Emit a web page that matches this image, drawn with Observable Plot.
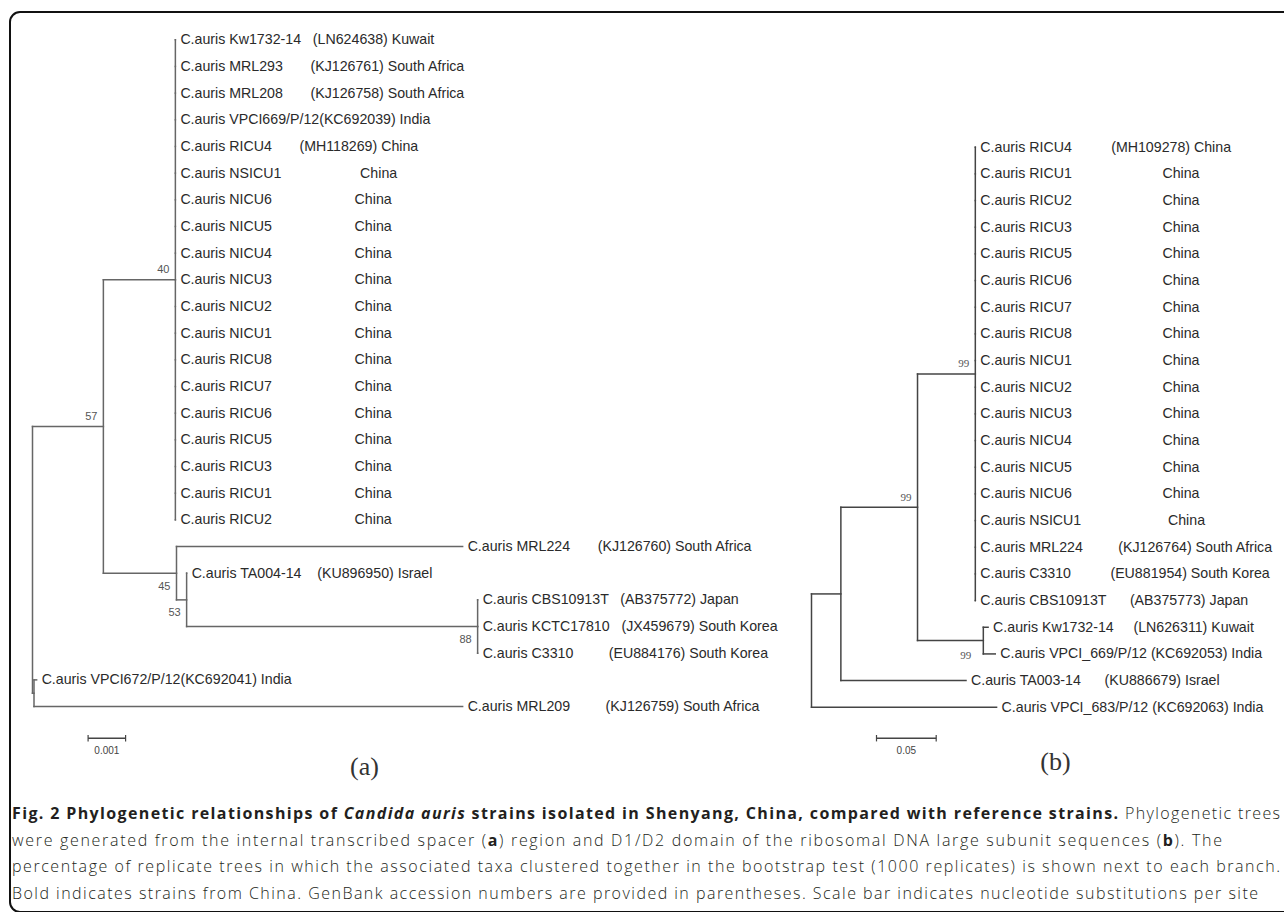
<!DOCTYPE html>
<html>
<head>
<meta charset="utf-8">
<script src="https://cdn.jsdelivr.net/npm/d3@7"></script>
<script src="https://cdn.jsdelivr.net/npm/@observablehq/plot@0.6"></script>
<style>
  body { margin: 0; background: #fff; overflow: hidden; }
  #wrap { position: relative; width: 1284px; height: 912px; overflow: hidden; background: #fff; }
  #frame { position: absolute; left: 9px; top: 11px; width: 1320px; height: 902px; border: 2.4px solid #111; border-radius: 11px; box-sizing: border-box; }
  .plot { position: absolute; left: 0; top: 0; }
  svg text { white-space: pre; }
  #caption { position: absolute; left: 12px; top: 800px; font-family: "Open Sans", sans-serif; font-size: 16px; line-height: 26.67px; color: #231f20; font-weight: 300; }
  #caption div { white-space: nowrap; width: max-content; }
  #caption b { font-weight: 700; }
</style>
</head>
<body>
<div id="wrap">
  <div id="frame"></div>
  <div id="caption"></div>
</div>
<script>
// ---------------- Tree (a): ITS region ----------------
const aLeafLabels = [
  "C.auris Kw1732-14   (LN624638) Kuwait",
  "C.auris MRL293       (KJ126761) South Africa",
  "C.auris MRL208       (KJ126758) South Africa",
  "C.auris VPCI669/P/12(KC692039) India",
  "C.auris RICU4       (MH118269) China",
  "C.auris NSICU1                    China",
  "C.auris NICU6                     China",
  "C.auris NICU5                     China",
  "C.auris NICU4                     China",
  "C.auris NICU3                     China",
  "C.auris NICU2                     China",
  "C.auris NICU1                     China",
  "C.auris RICU8                     China",
  "C.auris RICU7                     China",
  "C.auris RICU6                     China",
  "C.auris RICU5                     China",
  "C.auris RICU3                     China",
  "C.auris RICU1                     China",
  "C.auris RICU2                     China",
  "C.auris MRL224       (KJ126760) South Africa",
  "C.auris TA004-14    (KU896950) Israel",
  "C.auris CBS10913T   (AB375772) Japan",
  "C.auris KCTC17810   (JX459679) South Korea",
  "C.auris C3310         (EU884176) South Korea",
  "C.auris VPCI672/P/12(KC692041) India",
  "C.auris MRL209         (KJ126759) South Africa"
];
const aLeafParent = [
  "N40","N40","N40","N40","N40","N40","N40","N40","N40","N40",
  "N40","N40","N40","N40","N40","N40","N40","N40","N40",
  "N45","N53","N88","N88","N88","R2","R2"
];
const aLeafLength = [
  0,0,0,0,0,0,0,0,0,0, 0,0,0,0,0,0,0,0,0,
  0.00763, 0, 0, 0, 0, 0.00007, 0.01143
];
const aNodes      = ["root", "N57",   "N40",   "N45",   "N53",   "N88",   "R2"];
const aNodeParent = [null,   "root",  "N57",   "N57",   "N45",   "N53",   "root"];
const aNodeLength = [0,      0.00189, 0.00192, 0.00195, 0.00027, 0.00776, 0.00004];
const aBootNodes  = ["N40", "N57", "N45", "N53", "N88"];
const aBootValues = [40, 57, 45, 53, 88];
const aBootSide   = ["above", "above", "below", "below", "below"];
const aScaleBar = 0.001, aScaleLabel = "0.001", aPanel = "(a)";

// ---------------- Tree (b): D1/D2 domain ----------------
const bLeafLabels = [
  "C.auris RICU4          (MH109278) China",
  "C.auris RICU1                       China",
  "C.auris RICU2                       China",
  "C.auris RICU3                       China",
  "C.auris RICU5                       China",
  "C.auris RICU6                       China",
  "C.auris RICU7                       China",
  "C.auris RICU8                       China",
  "C.auris NICU1                       China",
  "C.auris NICU2                       China",
  "C.auris NICU3                       China",
  "C.auris NICU4                       China",
  "C.auris NICU5                       China",
  "C.auris NICU6                       China",
  "C.auris NSICU1                      China",
  "C.auris MRL224         (KJ126764) South Africa",
  "C.auris C3310          (EU881954) South Korea",
  "C.auris CBS10913T      (AB375773) Japan",
  "C.auris Kw1732-14     (LN626311) Kuwait",
  "C.auris VPCI_669/P/12 (KC692053) India",
  "C.auris TA003-14      (KU886679) Israel",
  "C.auris VPCI_683/P/12 (KC692063) India"
];
const bLeafParent = [
  "NC","NC","NC","NC","NC","NC","NC","NC","NC","NC",
  "NC","NC","NC","NC","NC","NC","NC","NC",
  "NK","NK","N3","root"
];
const bLeafLength = [
  0,0,0,0,0,0,0,0,0,0, 0,0,0,0,0,0,0,0,
  0.004, 0.010, 0.1048, 0.155
];
const bNodes      = ["root", "N3",   "N2",   "NC",   "NK"];
const bNodeParent = [null,   "root", "N3",   "N2",   "N2"];
const bNodeLength = [0,      0.0246, 0.0642, 0.0484, 0.0551];
const bBootNodes  = ["NC", "N2", "NK"];
const bBootValues = [99, 99, 99];
const bBootSide   = ["above", "above", "below"];
const bScaleBar = 0.05, bScaleLabel = "0.05", bPanel = "(b)";

// ---------------- Caption ----------------
const captionLines = [
  '<b>Fig. 2 Phylogenetic relationships of <i>Candida auris</i> strains isolated in Shenyang, China, compared with reference strains.</b> Phylogenetic trees',
  'were generated from the internal transcribed spacer (<b>a</b>) region and D1/D2 domain of the ribosomal DNA large subunit sequences (<b>b</b>). The',
  'percentage of replicate trees in which the associated taxa clustered together in the bootstrap test (1000 replicates) is shown next to each branch.',
  'Bold indicates strains from China. GenBank accession numbers are provided in parentheses. Scale bar indicates nucleotide substitutions per site'
];

// ---------------- Layout helper (rectangular cladogram) ----------------
function layoutTree(leafLabels, leafParent, leafLength, nodes, nodeParent, nodeLength) {
  const parent = new Map(nodes.map((n, i) => [n, nodeParent[i]]));
  const len = new Map(nodes.map((n, i) => [n, nodeLength[i]]));
  const X = new Map(), Y = new Map();
  function nx(n) {
    if (X.has(n)) return X.get(n);
    const p = parent.get(n);
    const v = p == null ? 0 : nx(p) + len.get(n);
    X.set(n, v); return v;
  }
  nodes.forEach(nx);
  const leaves = leafLabels.map((label, i) => ({
    label, parent: leafParent[i], x: X.get(leafParent[i]) + leafLength[i], y: i
  }));
  function childYs(n) {
    return [...leaves.filter(l => l.parent === n).map(l => l.y),
            ...nodes.filter(m => parent.get(m) === n).map(ny)];
  }
  function ny(n) {
    if (Y.has(n)) return Y.get(n);
    const cs = childYs(n);
    const v = (Math.min(...cs) + Math.max(...cs)) / 2;
    Y.set(n, v); return v;
  }
  nodes.forEach(ny);
  const segs = [];
  leaves.forEach(l => segs.push({x1: X.get(l.parent), x2: l.x, y1: l.y, y2: l.y}));
  nodes.forEach(n => {
    const p = parent.get(n);
    if (p != null) segs.push({x1: X.get(p), x2: X.get(n), y1: Y.get(n), y2: Y.get(n)});
    const cs = childYs(n);
    segs.push({x1: X.get(n), x2: X.get(n), y1: Math.min(...cs), y2: Math.max(...cs)});
  });
  return {X, Y, leaves, segs};
}

function drawTree(cfg) {
  const t = layoutTree(cfg.leafLabels, cfg.leafParent, cfg.leafLength, cfg.nodes, cfg.nodeParent, cfg.nodeLength);
  const boots = cfg.bootNodes.map((n, i) => ({x: t.X.get(n), y: t.Y.get(n), v: String(cfg.bootValues[i]), side: cfg.bootSide[i]}));
  const sx = Plot.scale({x: cfg.xScale});
  const sy = Plot.scale({y: cfg.yScale});
  const bx0 = sx.invert(cfg.barPx[0]), by = sy.invert(cfg.barPx[1]);
  const bar = [{x1: bx0, x2: bx0 + cfg.barLen, y1: by, y2: by}];
  const ticks = [
    {x1: bx0, x2: bx0, y1: by - 0.12, y2: by + 0.12},
    {x1: bx0 + cfg.barLen, x2: bx0 + cfg.barLen, y1: by - 0.12, y2: by + 0.12}
  ];
  const panel = [{x: sx.invert(cfg.panelPx[0]), y: sy.invert(cfg.panelPx[1]), t: cfg.panel}];
  return Plot.plot({
    width: 1284, height: 790, margin: 0,
    x: {...cfg.xScale, axis: null},
    y: {...cfg.yScale, axis: null},
    style: {background: "transparent", overflow: "visible"},
    marks: [
      Plot.link(t.segs, {x1: "x1", y1: "y1", x2: "x2", y2: "y2", stroke: cfg.lineColor, strokeWidth: 1.5, strokeLinecap: "square"}),
      Plot.text(t.leaves, {x: "x", y: "y", text: "label", textAnchor: "start", dx: 5, fontSize: 14.2, fontFamily: "Liberation Sans, Arial, sans-serif", fill: "#2a2a2a"}),
      Plot.text(boots.filter(d => d.side === "above"), {x: "x", y: "y", text: "v", textAnchor: "end", dx: -6, dy: -10, fontSize: 11, fontFamily: cfg.bootFont, fill: "#555"}),
      Plot.text(boots.filter(d => d.side === "below"), {x: "x", y: "y", text: "v", textAnchor: "end", dx: cfg.belowDx, dy: cfg.belowDy, fontSize: 11, fontFamily: cfg.bootFont, fill: "#555"}),
      Plot.link(bar, {x1: "x1", y1: "y1", x2: "x2", y2: "y2", stroke: "#444", strokeWidth: 1.5}),
      Plot.link(ticks, {x1: "x1", y1: "y1", x2: "x2", y2: "y2", stroke: "#444", strokeWidth: 1.2}),
      Plot.text([cfg.barLabel], {x: bx0 + cfg.barLen / 2, y: by, text: d => d, dy: 13, fontSize: 10, fontFamily: "Liberation Sans, Arial, sans-serif", fill: "#444"}),
      Plot.text(panel, {x: "x", y: "y", text: "t", fontSize: 26, fontFamily: "Liberation Serif, serif", fill: "#333"})
    ]
  });
}

const wrap = document.getElementById("wrap");
const plotA = drawTree({
  leafLabels: aLeafLabels, leafParent: aLeafParent, leafLength: aLeafLength,
  nodes: aNodes, nodeParent: aNodeParent, nodeLength: aNodeLength,
  bootNodes: aBootNodes, bootValues: aBootValues, bootSide: aBootSide,
  xScale: {type: "linear", domain: [0, 0.001], range: [32, 69.5]},
  yScale: {type: "linear", domain: [0, 1], range: [39.3, 65.97]},
  barLen: aScaleBar, barLabel: aScaleLabel, barPx: [87.6, 737.7],
  panel: aPanel, panelPx: [364, 766],
  lineColor: "#666", bootFont: "Liberation Sans, Arial, sans-serif", belowDx: -6, belowDy: 13
});
const plotB = drawTree({
  leafLabels: bLeafLabels, leafParent: bLeafParent, leafLength: bLeafLength,
  nodes: bNodes, nodeParent: bNodeParent, nodeLength: bNodeLength,
  bootNodes: bBootNodes, bootValues: bBootValues, bootSide: bBootSide,
  xScale: {type: "linear", domain: [0, 0.05], range: [811, 870.7]},
  yScale: {type: "linear", domain: [0, 1], range: [146.7, 173.37]},
  barLen: bScaleBar, barLabel: bScaleLabel, barPx: [876, 737.7],
  panel: bPanel, panelPx: [1055, 761],
  lineColor: "#444", bootFont: "Liberation Serif, serif", belowDx: -12, belowDy: 15
});
[plotA, plotB].forEach(p => { p.classList.add("plot"); wrap.appendChild(p); });

// caption with line widths matched to the reference
const cap = document.getElementById("caption");
const targets = [1268, 1210, 1268, 1246];
captionLines.forEach((html, i) => {
  const d = document.createElement("div");
  d.innerHTML = html;
  cap.appendChild(d);
  const w = d.getBoundingClientRect().width;
  const n = d.textContent.length;
  d.style.letterSpacing = ((targets[i] - w) / (n - 1)).toFixed(3) + "px";
});
</script>
</body>
</html>
